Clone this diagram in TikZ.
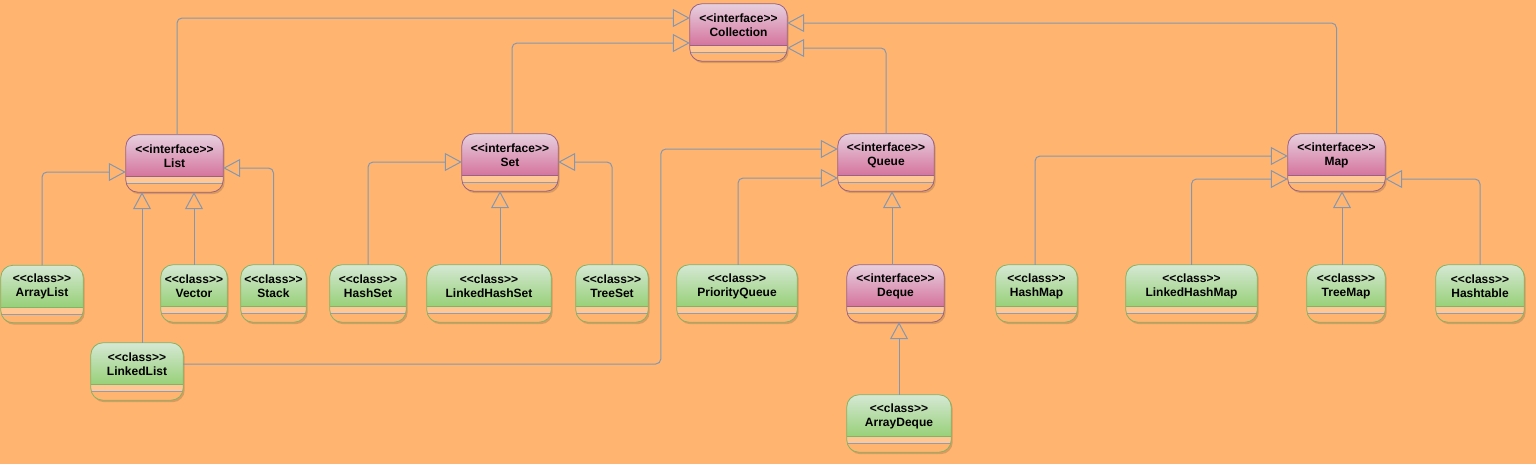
\documentclass[tikz,border=0pt]{standalone}
\usepackage{fontspec}
\setmainfont{Liberation Sans}[Ligatures=TeXOff]
\usetikzlibrary{arrows.meta,calc}
\definecolor{bg}{HTML}{FFB570}
\definecolor{ifstroke}{HTML}{996185}
\definecolor{iftop}{HTML}{E6D0DE}
\definecolor{ifbot}{HTML}{D5739D}
\definecolor{clstroke}{HTML}{82B366}
\definecolor{cltop}{HTML}{D5E8D4}
\definecolor{clbot}{HTML}{97D077}
\definecolor{edgecol}{HTML}{8596B0}
\definecolor{sepcol}{HTML}{8E9CB5}
\tikzset{
 umlframe/.style={rectangle, draw=none, minimum height=57pt, inner sep=0pt},
 umltext/.style={align=center, inner sep=0pt, font=\fontsize{12}{14}\selectfont\bfseries},
 ext/.style={draw=edgecol, line width=1pt, rounded corners=5pt, -{Triangle[open, length=17pt, width=18pt]}},
 boxshadow/.style={fill=black, opacity=0.15, rounded corners=12pt},
 boxline/.style={line width=0.8pt, rounded corners=12pt},
}
% name, x, y, width, stroke, top colour, bottom colour, stereotype, title
\newcommand\uml[9]{%
 \node[umlframe, minimum width=#4pt] (#1) at (#2,#3) {};
 \fill[boxshadow] ([shift={(1.5pt,-2pt)}]#1.north west) rectangle ([shift={(1.5pt,-2pt)}]#1.south east);
 \fill[bg, rounded corners=12pt] (#1.north west) rectangle (#1.south east);
 \begin{scope}
  \clip[rounded corners=12pt] (#1.north west) rectangle (#1.south east);
  \shade[top color=#6, bottom color=#7] (#1.north west) rectangle ([yshift=-42pt]#1.north east);
  \fill[white, opacity=0.25] ([yshift=-42pt]#1.north west) rectangle ([yshift=-49pt]#1.north east);
  \draw[#5, line width=0.8pt] ([yshift=-42pt]#1.north west) -- ([yshift=-42pt]#1.north east);
  \draw[sepcol, line width=0.8pt] ([yshift=-49pt]#1.north west) -- ([yshift=-49pt]#1.north east);
 \end{scope}
 \draw[boxline, draw=#5] (#1.north west) rectangle (#1.south east);
 \node[umltext] (#1t) at ([yshift=7.5pt]#1.center) {<<#8>>\\#9};}
\newcommand\iface[5]{\uml{#1}{#2}{#3}{#4}{ifstroke}{iftop}{ifbot}{interface}{#5}}
\newcommand\klass[5]{\uml{#1}{#2}{#3}{#4}{clstroke}{cltop}{clbot}{class}{#5}}
\begin{document}
\begin{tikzpicture}[x=1pt,y=-1pt]
\fill[bg] (0,0) rectangle (1536,464);
\useasboundingbox (0,0) rectangle (1536,464);
\iface{coll}{738.5}{32.5}{97}{Collection}
\iface{list}{174.5}{163.5}{97}{List}
\iface{set}{510}{162.5}{96}{Set}
\iface{queue}{886}{162.5}{96}{Queue}
\iface{map}{1336.5}{162.5}{97}{Map}
\iface{deque}{895.5}{293.5}{97}{Deque}
\klass{arraylist}{42}{294}{82}{ArrayList}
\klass{vector}{194}{293.5}{66}{Vector}
\klass{stack}{273.5}{293.5}{65}{Stack}
\klass{linkedlist}{137}{371.5}{92}{LinkedList}
\klass{hashset}{368}{293.5}{76}{HashSet}
\klass{lhs}{489}{293.5}{124}{LinkedHashSet}
\klass{treeset}{612}{293.5}{72}{TreeSet}
\klass{pq}{737}{293.5}{120}{PriorityQueue}
\klass{arraydeque}{899}{423.5}{104}{ArrayDeque}
\klass{hashmap}{1036.5}{293.5}{81}{HashMap}
\klass{lhm}{1191.5}{293.5}{131}{LinkedHashMap}
\klass{treemap}{1346}{293.5}{78}{TreeMap}
\klass{hashtable}{1480}{293.5}{88}{Hashtable}
% connectors
\draw[ext] ([xshift=2.5pt]list.north) |- ([yshift=14.5pt]coll.west);
\draw[ext] ([xshift=2pt]set.north) |- ([yshift=-10.5pt]coll.west);
\draw[ext] (queue.north) |- ([yshift=-15.5pt]coll.east);
\draw[ext] (map.north) |- ([yshift=9.5pt]coll.east);
\draw[ext] (arraylist.north) |- ([yshift=-8.5pt]list.west);
\draw[ext] (vector.north) -- (vector.north |- list.south);
\draw[ext] (stack.north) |- ([yshift=-4.5pt]list.east);
\coordinate (llup) at ([xshift=5pt]linkedlist.north);
\draw[ext] (llup) -- (llup |- list.south);
\draw[ext] ([yshift=7.5pt]linkedlist.east) -| ([xshift=-177pt,yshift=13.5pt]queue.west) -- ([yshift=13.5pt]queue.west);
\draw[ext] (hashset.north) |- ([yshift=0.5pt]set.west);
\coordinate (lhsup) at ([xshift=11pt]lhs.north);
\draw[ext] (lhsup) -- (lhsup |- set.south);
\draw[ext] (treeset.north) |- ([yshift=0.5pt]set.east);
\draw[ext] ([xshift=1pt]pq.north) |- ([yshift=-15.5pt]queue.west);
\coordinate (dqup) at ([xshift=-3.5pt]deque.north);
\draw[ext] (dqup) -- (dqup |- queue.south);
\draw[ext] (arraydeque.north) -- (arraydeque.north |- deque.south);
\draw[ext] ([xshift=-1.5pt]hashmap.north) |- ([yshift=6.5pt]map.west);
\draw[ext] (lhm.north) |- ([yshift=-16.5pt]map.west);
\coordinate (tmup) at ([xshift=-4pt]treemap.north);
\draw[ext] (tmup) -- (tmup |- map.south);
\draw[ext] (hashtable.north) |- ([yshift=-16.5pt]map.east);
\end{tikzpicture}
\end{document}
